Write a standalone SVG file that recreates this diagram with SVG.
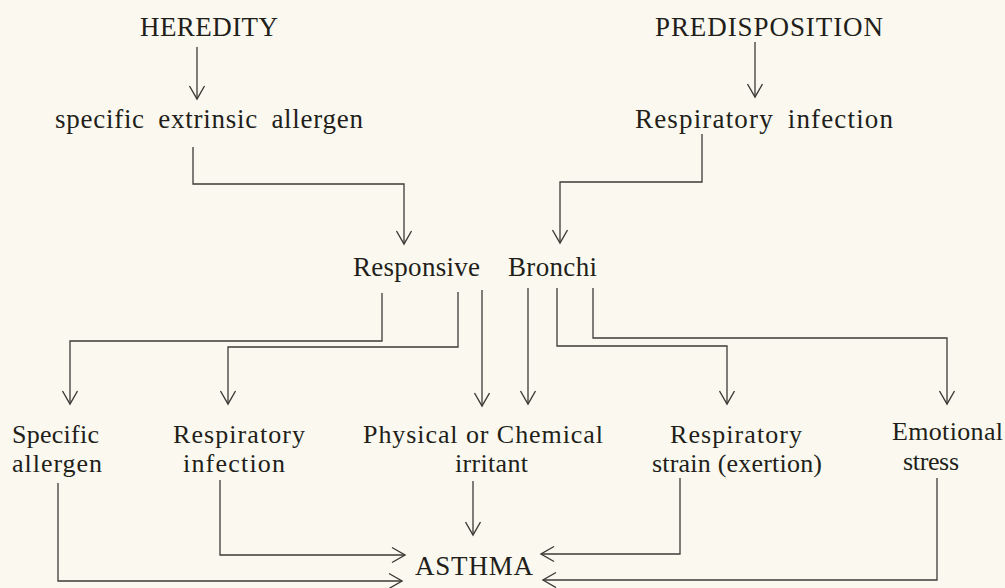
<svg xmlns="http://www.w3.org/2000/svg" width="1005" height="588" viewBox="0 0 1005 588">
  <style>
    .t { font-family: "Liberation Serif", "Times New Roman", serif; font-size: 27px; fill: #221e1a; }
    .s { font-size: 26px; }
    .ws { word-spacing: 6px; }
    .c { fill: none; stroke: #3c3a36; stroke-width: 1.3; }
  </style>
  <defs>
    <marker id="ah" viewBox="-15 -9 17 18" refX="0" refY="0" markerWidth="17" markerHeight="18" markerUnits="userSpaceOnUse" orient="auto">
      <path d="M-13,-7.5 L0,0 L-13,7.5" fill="none" stroke="#3c3a36" stroke-width="1.4"/>
    </marker>
  </defs>
  <rect width="1005" height="588" fill="#fbf9ef"/>

  <g id="heredity"><text class="t" x="140" y="36" textLength="138" lengthAdjust="spacing">HEREDITY</text></g>
  <g id="predisposition"><text class="t" x="655" y="36" textLength="228" lengthAdjust="spacing">PREDISPOSITION</text></g>
  <g id="specific-extrinsic-allergen"><text class="t ws" x="55" y="128" textLength="308" lengthAdjust="spacing">specific extrinsic allergen</text></g>
  <g id="respiratory-infection-top"><text class="t ws" x="635" y="128" textLength="258" lengthAdjust="spacing">Respiratory infection</text></g>
  <g id="responsive-bronchi">
    <text class="t" x="353" y="276" textLength="127" lengthAdjust="spacing">Responsive</text>
    <text class="t" x="508" y="276" textLength="89" lengthAdjust="spacing">Bronchi</text>
  </g>
  <g id="specific-allergen">
    <text class="t s" x="12" y="443" textLength="87" lengthAdjust="spacing">Specific</text>
    <text class="t s" x="12" y="472" textLength="90" lengthAdjust="spacing">allergen</text>
  </g>
  <g id="respiratory-infection">
    <text class="t s" x="173" y="443" textLength="132" lengthAdjust="spacing">Respiratory</text>
    <text class="t s" x="183" y="472" textLength="102" lengthAdjust="spacing">infection</text>
  </g>
  <g id="irritant">
    <text class="t s" x="363" y="443" textLength="240" lengthAdjust="spacing">Physical or Chemical</text>
    <text class="t s" x="455" y="472" textLength="73" lengthAdjust="spacing">irritant</text>
  </g>
  <g id="respiratory-strain">
    <text class="t s" x="670" y="443" textLength="132" lengthAdjust="spacing">Respiratory</text>
    <text class="t s" x="652" y="472" textLength="170" lengthAdjust="spacing">strain (exertion)</text>
  </g>
  <g id="emotional-stress">
    <text class="t s" x="892" y="440" textLength="111" lengthAdjust="spacing">Emotional</text>
    <text class="t s" x="903" y="470" textLength="56" lengthAdjust="spacing">stress</text>
  </g>
  <g id="asthma"><text class="t" x="415" y="575" textLength="118" lengthAdjust="spacing">ASTHMA</text></g>

  <g id="connectors" class="c">
    <path class="c" d="M197,47 V99" marker-end="url(#ah)"/>
    <path class="c" d="M755,42 V97" marker-end="url(#ah)"/>
    <path class="c" d="M193,147 V184 H404 V244" marker-end="url(#ah)"/>
    <path class="c" d="M702,134 V182 H560 V243" marker-end="url(#ah)"/>
    <path class="c" d="M382,293 V341 H70 V404" marker-end="url(#ah)"/>
    <path class="c" d="M458,292 V347 H228 V404" marker-end="url(#ah)"/>
    <path class="c" d="M482,290 V406" marker-end="url(#ah)"/>
    <path class="c" d="M528,288 V404" marker-end="url(#ah)"/>
    <path class="c" d="M557,288 V346 H727 V404" marker-end="url(#ah)"/>
    <path class="c" d="M593,288 V338 H947 V404" marker-end="url(#ah)"/>
    <path class="c" d="M58,483 V581 H402" marker-end="url(#ah)"/>
    <path class="c" d="M220,480 V555 H405" marker-end="url(#ah)"/>
    <path class="c" d="M473,481 V535" marker-end="url(#ah)"/>
    <path class="c" d="M680,478 V554 H541" marker-end="url(#ah)"/>
    <path class="c" d="M937,478 V580 H543" marker-end="url(#ah)"/>
  </g>
</svg>
